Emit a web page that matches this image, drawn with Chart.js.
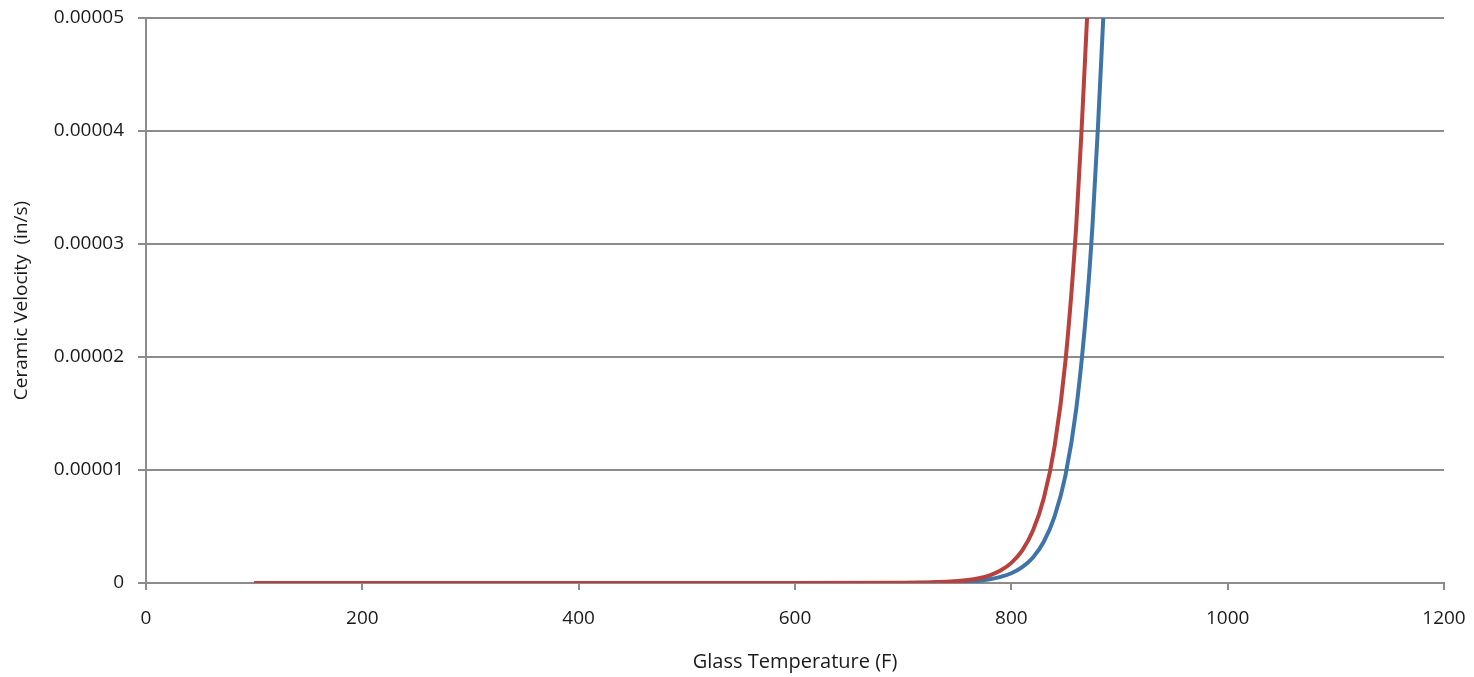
<!DOCTYPE html>
<html>
<head>
<meta charset="utf-8">
<script src="https://cdn.jsdelivr.net/npm/chart.js@4/dist/chart.umd.min.js"></script>
<style>
  html, body { margin: 0; padding: 0; background: #fff; }
  #wrap { width: 1474px; height: 677px; }
</style>
</head>
<body>
<div id="wrap"><canvas id="velChart" width="1474" height="677"></canvas></div>
<script>
// values
const redTemps = [100, 200, 300, 400, 500, 600, 700, 740, 760, 770, 780, 790, 800, 810, 820, 830, 840, 850, 860, 865, 870];
const redVel = [0, 0, 0, 0, 0, 0, 0.000000015, 0.0000001, 0.00000026, 0.00000042, 0.00000068, 0.0000011, 0.00000178, 0.00000287, 0.00000464, 0.0000075, 0.0000121, 0.0000196, 0.0000316, 0.0000402, 0.00005];

const blueTemps = [100, 200, 300, 400, 500, 600, 700, 750, 770, 780, 790, 800, 810, 820, 830, 840, 850, 860, 870, 875, 880, 885];
const blueVel = [0, 0, 0, 0, 0, 0, 0.000000008, 0.000000078, 0.0000002, 0.00000033, 0.00000054, 0.00000086, 0.0000014, 0.00000226, 0.00000365, 0.0000059, 0.0000095, 0.0000154, 0.0000249, 0.0000316, 0.0000402, 0.00005];

const xTicks = [0, 200, 400, 600, 800, 1000, 1200];
const yTicks = [0, 0.00001, 0.00002, 0.00003, 0.00004, 0.00005];

const toPoints = (xs, ys) => xs.map((x, i) => ({ x: x, y: ys[i] }));

const gridGrey = "#8c8c8c";
const textCol = "#1a1a1a";
const fontFam = "'Open Sans', Lato, sans-serif";

new Chart(document.getElementById("velChart"), {
  type: "line",
  data: {
    datasets: [
      {
        label: "Series 2",
        data: toPoints(redTemps, redVel),
        borderColor: "#b8403d",
        borderWidth: 4,
        pointRadius: 0,
        cubicInterpolationMode: "monotone",
        fill: false
      },
      {
        label: "Series 1",
        data: toPoints(blueTemps, blueVel),
        borderColor: "#3f74a8",
        borderWidth: 4,
        pointRadius: 0,
        cubicInterpolationMode: "monotone",
        fill: false
      }
    ]
  },
  options: {
    responsive: false,
    animation: false,
    layout: { padding: { left: 0, right: 30, top: 18, bottom: 0 } },
    plugins: {
      legend: { display: false },
      tooltip: { enabled: false }
    },
    scales: {
      x: {
        type: "linear",
        min: 0,
        max: 1200,
        afterBuildTicks: s => { s.ticks = xTicks.map(v => ({ value: v })); },
        afterFit: s => {
          s.height = 94;
          s.paddingLeft = 0;
          s.paddingRight = 0;
        },
        border: { display: true, color: gridGrey, width: 2 },
        grid: { drawOnChartArea: false, drawTicks: true, tickLength: 7, color: gridGrey, lineWidth: 2 },
        ticks: {
          color: textCol,
          font: { family: fontFam, size: 19 },
          padding: 17,
          maxRotation: 0,
          callback: v => String(v)
        },
        title: {
          display: true,
          text: "Glass Temperature (F)",
          color: textCol,
          font: { family: fontFam, size: 20 },
          padding: { top: 10, bottom: 3 }
        }
      },
      y: {
        min: 0,
        max: 0.00005,
        afterBuildTicks: s => { s.ticks = yTicks.map(v => ({ value: v })); },
        afterFit: s => {
          s.width = 146;
          s.paddingTop = 0;
          s.paddingBottom = 0;
        },
        border: { display: true, color: gridGrey, width: 2 },
        grid: { color: gridGrey, lineWidth: 2, drawTicks: true, tickLength: 8 },
        ticks: {
          color: textCol,
          font: { family: fontFam, size: 19 },
          padding: 14,
          callback: v => (v === 0 ? "0" : v.toFixed(5))
        },
        title: {
          display: true,
          text: "Ceramic Velocity  (in/s)",
          color: textCol,
          font: { family: fontFam, size: 19 },
          padding: { top: 10, bottom: 0 }
        }
      }
    }
  }
});
</script>
</body>
</html>
